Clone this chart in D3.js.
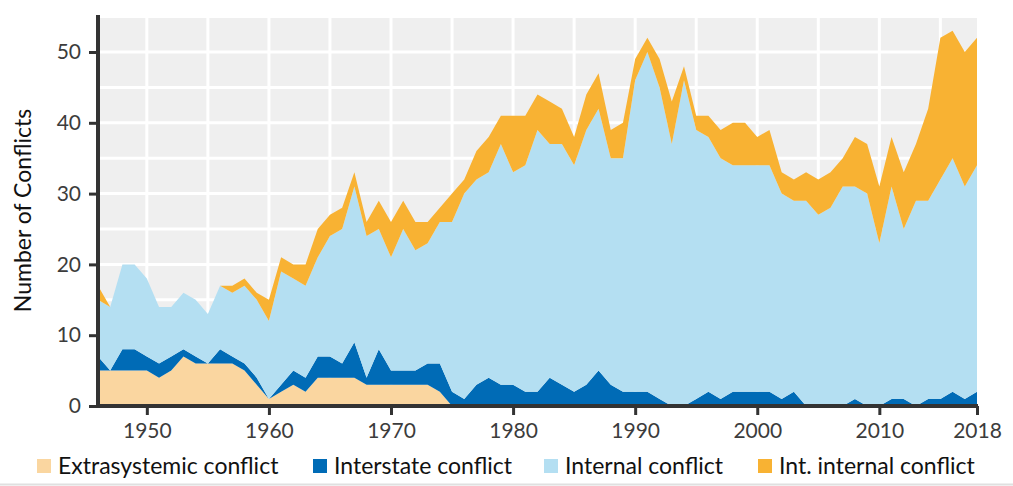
<!DOCTYPE html>
<html>
<head>
<meta charset="utf-8">
<script src="https://cdn.jsdelivr.net/npm/d3@7"></script>
<style>
  html, body { margin: 0; padding: 0; background: #ffffff; }
  svg { display: block; }
  text { font-family: Lato, "Open Sans", "DejaVu Sans", sans-serif; }
</style>
</head>
<body>
<svg id="chart" width="1013" height="486"></svg>
<script>
// ---- Data ----
const years = d3.range(1946, 2019);
const seriesKeys = ["Extrasystemic conflict", "Interstate conflict", "Internal conflict", "Int. internal conflict"];
const seriesColors = ["#fad6a0", "#006bb6", "#b4dff2", "#f8b233"];

const extrasystemic = [5,5,5,5,5,4,5,7,6,6,6,6,5,3,1,2,3,2,4,4,4,4,3,3,3,3,3,3,2,0,
  0,0,0,0,0,0,0,0,0,0,0,0,0,0,0,0,0,0,0,0,0,0,0,0,0,0,0,0,0,0,0,0,0,0,0,0,0,0,0,0,0,0,0];
const interstate = [2,0,3,3,2,2,2,1,1,0,2,1,1,1,0,1,2,2,3,3,2,5,1,5,2,2,2,3,4,2,
  1,3,4,3,3,2,2,4,3,2,3,5,3,2,2,2,1,0,0,1,2,1,2,2,2,2,1,2,0,0,0,0,1,0,0,1,1,0,1,1,2,1,2];
const internal = [8,9,12,12,11,8,7,8,8,7,9,9,11,11,11,16,13,13,14,17,19,22,20,17,16,20,17,17,20,24,
  29,29,29,34,30,32,37,33,34,32,36,37,32,33,44,48,44,37,46,38,36,34,32,32,32,32,29,27,29,27,28,31,30,30,23,30,24,29,28,31,33,30,32];
const intInternal = [2,0,0,0,0,0,0,0,0,0,0,1,1,1,3,2,2,3,4,3,3,2,2,4,5,4,4,3,2,4,
  2,4,5,4,8,7,5,6,5,4,5,5,4,5,3,2,4,6,2,2,3,4,6,6,4,5,3,3,4,5,5,4,7,7,8,7,8,8,13,20,18,19,18];

const xTickValues = [1950, 1960, 1970, 1980, 1990, 2000, 2010, 2018];
const yTickValues = [0, 10, 20, 30, 40, 50];

// ---- Build table ----
const table = years.map((yr, i) => ({
  year: yr,
  "Extrasystemic conflict": extrasystemic[i],
  "Interstate conflict": interstate[i],
  "Internal conflict": internal[i],
  "Int. internal conflict": intInternal[i]
}));

const svg = d3.select("#chart");
const plotLeft = 98, plotRight = 977, plotTop = 15, plotBottom = 406;

const x = d3.scaleLinear().domain([1946, 2018]).range([plotLeft, plotRight]);
const y = d3.scaleLinear().domain([0, 50]).range([plotBottom, 52]);
const yMax = y.invert(plotTop);

// background
svg.append("rect")
  .attr("x", plotLeft).attr("y", plotTop)
  .attr("width", plotRight - plotLeft).attr("height", plotBottom - plotTop)
  .attr("fill", "#efefef");

// grid
const gGrid = svg.append("g");
gGrid.selectAll("line.v").data(d3.range(1950, 2018, 5)).join("line")
  .attr("class", "v")
  .attr("x1", d => x(d)).attr("x2", d => x(d))
  .attr("y1", plotTop).attr("y2", plotBottom)
  .attr("stroke", "#ffffff").attr("stroke-width", 3);
gGrid.selectAll("line.h").data(d3.range(5, yMax, 5)).join("line")
  .attr("class", "h")
  .attr("x1", plotLeft).attr("x2", plotRight)
  .attr("y1", d => y(d)).attr("y2", d => y(d))
  .attr("stroke", "#ffffff").attr("stroke-width", 3);

// stacked areas
const stack = d3.stack().keys(seriesKeys);
const layers = stack(table);
const area = d3.area()
  .x(d => x(d.data.year))
  .y0(d => y(d[0]))
  .y1(d => y(d[1]));

svg.append("g").selectAll("path").data(layers).join("path")
  .attr("d", area)
  .attr("fill", (d, i) => seriesColors[i]);

// axes
const axisColor = "#333333";
const xAxis = d3.axisBottom(x).tickValues(xTickValues).tickFormat(d3.format("d"))
  .tickSize(9).tickPadding(8);
const gx = svg.append("g").attr("transform", `translate(0,${plotBottom})`).call(xAxis);
gx.select(".domain").remove();
gx.selectAll(".tick line").attr("stroke", axisColor).attr("stroke-width", 3);
gx.selectAll(".tick text").attr("fill", "#3c3c3c").style("font-size", "21px")
  .style("font-family", "Lato, 'Open Sans', sans-serif");

const yAxis = d3.axisLeft(y).tickValues(yTickValues).tickSize(9).tickPadding(8);
const gy = svg.append("g").attr("transform", `translate(${plotLeft},0)`).call(yAxis);
gy.select(".domain").remove();
gy.selectAll(".tick line").attr("stroke", axisColor).attr("stroke-width", 3);
gy.selectAll(".tick text").attr("fill", "#3c3c3c").style("font-size", "21px")
  .style("font-family", "Lato, 'Open Sans', sans-serif");

// axis lines
svg.append("line").attr("x1", plotLeft).attr("x2", plotLeft).attr("y1", plotTop).attr("y2", plotBottom + 2)
  .attr("stroke", axisColor).attr("stroke-width", 4);
svg.append("line").attr("x1", plotLeft - 2).attr("x2", plotRight + 1).attr("y1", plotBottom).attr("y2", plotBottom)
  .attr("stroke", axisColor).attr("stroke-width", 4);

// y title
svg.append("text")
  .attr("transform", `translate(31,${(plotTop + plotBottom) / 2}) rotate(-90)`)
  .attr("text-anchor", "middle")
  .attr("fill", "#111")
  .style("font-size", "23px")
  .text("Number of Conflicts");

// legend
const legendX = [37, 313, 544, 758];
const lg = svg.append("g");
seriesKeys.forEach((k, i) => {
  lg.append("rect").attr("x", legendX[i]).attr("y", 459).attr("width", 14).attr("height", 14)
    .attr("fill", seriesColors[i]);
  lg.append("text").attr("x", legendX[i] + 21).attr("y", 474)
    .attr("fill", "#111").style("font-size", "23px").text(k);
});

// bottom rule
svg.append("line").attr("x1", 0).attr("x2", 1013).attr("y1", 484.5).attr("y2", 484.5)
  .attr("stroke", "#e0e0e0").attr("stroke-width", 2);
</script>
</body>
</html>
